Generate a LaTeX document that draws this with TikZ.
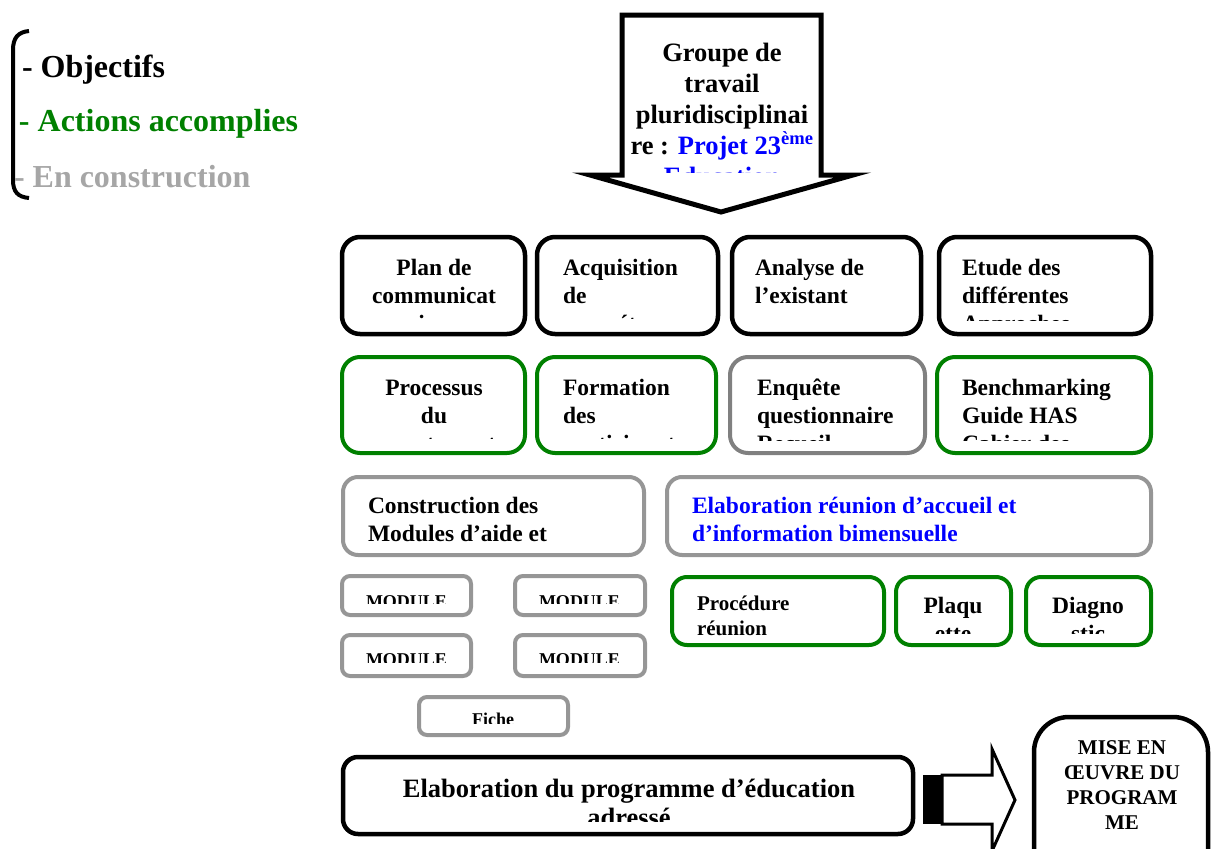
\documentclass[tikz,border=0pt]{standalone}
\usepackage{fontspec}
\setmainfont{Liberation Serif}
\definecolor{grn}{RGB}{0,128,0}
\definecolor{gbd}{RGB}{150,150,150}
\definecolor{gbdd}{RGB}{128,128,128}
\definecolor{gtx}{RGB}{166,166,166}
\newcommand\myfs[2]{\fontsize{#1}{#2}\selectfont}
\newcommand\tstrut{\rule{0pt}{1em}}
\tikzset{
  bx/.style={draw, fill=white, inner sep=0pt, outer sep=0pt},
  bk/.style={bx, draw=black, line width=4.5pt, rounded corners=18pt},
  gr/.style={bx, draw=grn, line width=4pt, rounded corners=18pt},
  gy/.style={bx, draw=gbd, line width=4pt, rounded corners=15pt},
  gyd/.style={bx, draw=gbdd, line width=4pt, rounded corners=18pt},
  md/.style={bx, draw=gbd, line width=4pt, rounded corners=8pt},
  tx/.style={inner sep=0pt, outer sep=0pt},
  ta/.style={tx, font=\bfseries\myfs{23.5}{28}},
  leg/.style={tx, font=\bfseries\myfs{32}{38}},
}
\begin{document}
\begin{tikzpicture}[x=1pt,y=-1pt]
\useasboundingbox (0,0) rectangle (1211,849);
\clip (0,0) rectangle (1211,849);

% legend
\draw[line width=4pt] (29,31) .. controls (18,32) and (13,38) .. (13,50) -- (13,180) .. controls (13,192) and (18,197) .. (29,198);
\node[leg, anchor=base west] (obj) at (22,77) {- Objectifs};
\node[leg, anchor=base west, text=grn] (act) at (19,131) {- Actions accomplies};
\node[leg, anchor=base west, text=gtx] (enc) at (14,187) {- En construction};

% top block arrow
\draw[line width=5pt, fill=white, miter limit=10] (622,15) -- (821,15) -- (821,175) -- (853,175) -- (721,212) -- (590,175) -- (622,175) -- cycle;
\begin{scope}
\clip (625,18) rectangle (818,172);
\node[tx, anchor=north, align=center, font=\bfseries\myfs{26.5}{31}] (grp) at (722,34.5)
  {\tstrut Groupe de\\travail\\pluridisciplinai\\re : {\color{blue}Projet 23\textsuperscript{ème}}\\{\color{blue}Education}};
\end{scope}

% row 1
\node[bk, minimum width=183pt, minimum height=97pt] (plan) at (433.5,285.5) {};
\node[bk, minimum width=181pt, minimum height=97pt] (acq) at (627.5,285.5) {};
\node[bk, minimum width=189pt, minimum height=97pt] (ana) at (826.5,285.5) {};
\node[bk, minimum width=212pt, minimum height=97pt] (etu) at (1045,285.5) {};
\begin{scope}\clip (345,240) rectangle (522,318);
\node[ta, anchor=north, align=center] (plant) at (434,251.5) {\tstrut Plan de\\communicat\\ion};
\end{scope}
\begin{scope}\clip (540,240) rectangle (715,318);
\node[ta, anchor=north west, align=left] (acqt) at (563,251.5) {\tstrut Acquisition\\de\\compétences};
\end{scope}
\begin{scope}\clip (735,240) rectangle (918,320);
\node[ta, anchor=north west, align=left] (anat) at (755,251.5) {\tstrut Analyse de\\l’existant};
\end{scope}
\begin{scope}\clip (942,240) rectangle (1148,320);
\node[ta, anchor=north west, align=left] (etut) at (962,251.5) {\tstrut Etude des\\différentes\\Approches};
\end{scope}

% row 2
\node[gr, minimum width=183pt, minimum height=96pt] (proc) at (433.5,405) {};
\node[gr, minimum width=179pt, minimum height=96pt] (form) at (626.5,405) {};
\node[gyd, minimum width=195pt, minimum height=96pt] (enq) at (827.5,405) {};
\node[gr, minimum width=214pt, minimum height=96pt] (bench) at (1044,405) {};
\begin{scope}\clip (345,360) rectangle (522,438.5);
\node[ta, anchor=north, align=center] (proct) at (434,371.5) {\tstrut Processus\\du\\recrutement};
\end{scope}
\begin{scope}\clip (540,360) rectangle (713,438);
\node[ta, anchor=north west, align=left] (formt) at (563,371.5) {\tstrut Formation\\des\\participants};
\end{scope}
\begin{scope}\clip (733,360) rectangle (922,440);
\node[ta, anchor=north west, align=left] (enqt) at (757,371.5) {\tstrut Enquête\\questionnaire\\Recueil};
\end{scope}
\begin{scope}\clip (940,360) rectangle (1148,440);
\node[ta, anchor=north west, align=left] (bencht) at (962,371.5) {\tstrut Benchmarking\\Guide HAS\\Cahier des};
\end{scope}

% row 3
\node[gy, minimum width=301pt, minimum height=78pt] (cons) at (493.5,516) {};
\node[gy, minimum width=484pt, minimum height=78pt] (elab) at (909,516) {};
\node[ta, anchor=north west, align=left] (const) at (368,489.5) {\tstrut Construction des\\Modules d’aide et};
\node[ta, anchor=north west, align=left, text=blue] (elabt) at (692,489.5) {\tstrut Elaboration réunion d’accueil et\\d’information bimensuelle};

% row 4 green
\node[gr, rounded corners=15pt, minimum width=212pt, minimum height=68pt] (procd) at (778,611) {};
\node[gr, rounded corners=15pt, minimum width=115pt, minimum height=68pt] (plaq) at (953.5,611) {};
\node[gr, rounded corners=15pt, minimum width=125pt, minimum height=68pt] (diag) at (1088.5,611) {};
\begin{scope}\clip (675,580) rectangle (881,636);
\node[tx, anchor=north west, align=left, font=\bfseries\myfs{21}{25}] (procdt) at (697,589) {\tstrut Procédure\\réunion};
\end{scope}
\begin{scope}\clip (899,580) rectangle (1008,633.5);
\node[ta, anchor=north, align=center] (plaqt) at (953,589.5) {\tstrut Plaqu\\ette};
\end{scope}
\begin{scope}\clip (1029,580) rectangle (1148,633.5);
\node[ta, anchor=north, align=center] (diagt) at (1088,589.5) {\tstrut Diagno\\stic};
\end{scope}

% modules
\node[md, minimum width=129pt, minimum height=39pt] (m1) at (406.5,595.5) {};
\node[md, minimum width=130pt, minimum height=39pt] (m2) at (580,595.5) {};
\node[md, minimum width=129pt, minimum height=41pt] (m3) at (406.5,655.5) {};
\node[md, minimum width=130pt, minimum height=41pt] (m4) at (580,655.5) {};
\node[md, minimum width=149pt, minimum height=38pt] (fiche) at (493.5,716) {};
\begin{scope}\clip (330,570) rectangle (660,603);
\node[tx, anchor=base, font=\bfseries\myfs{18}{21}] (m1t) at (406.5,607) {MODULE};
\node[tx, anchor=base, font=\bfseries\myfs{18}{21}] (m2t) at (579.5,607) {MODULE};
\end{scope}
\begin{scope}\clip (330,630) rectangle (660,662);
\node[tx, anchor=base, font=\bfseries\myfs{18}{21}] (m3t) at (406.5,665) {MODULE};
\node[tx, anchor=base, font=\bfseries\myfs{18}{21}] (m4t) at (579.5,665) {MODULE};
\end{scope}
\begin{scope}\clip (420,700) rectangle (566,723);
\node[tx, anchor=base, font=\bfseries\myfs{18}{21}] (fichet) at (493,725) {Fiche};
\end{scope}

% bottom
\node[bk, rounded corners=15pt, minimum width=570pt, minimum height=77pt] (prog) at (628,795.5) {};
\begin{scope}\clip (346,760) rectangle (910,821);
\node[tx, anchor=north, align=center, font=\bfseries\myfs{26.5}{29}] (progt) at (629,770.5) {\tstrut Elaboration du programme d’éducation\\adressé};
\end{scope}

\node[bk, rounded corners=35pt, minimum width=174pt, minimum height=183pt] (mise) at (1121,808.5) {};
\node[tx, anchor=north, align=center, font=\bfseries\myfs{21}{25}] (miset) at (1122,733) {\tstrut MISE EN\\ŒUVRE DU\\PROGRAM\\ME};

% right block arrow
\fill (923,775) rectangle (942,824);
\draw[line width=3pt, fill=white, miter limit=10] (942,775) -- (992,775) -- (992,749) -- (1015,800) -- (992,851) -- (992,824) -- (942,824) -- cycle;
\end{tikzpicture}
\end{document}
